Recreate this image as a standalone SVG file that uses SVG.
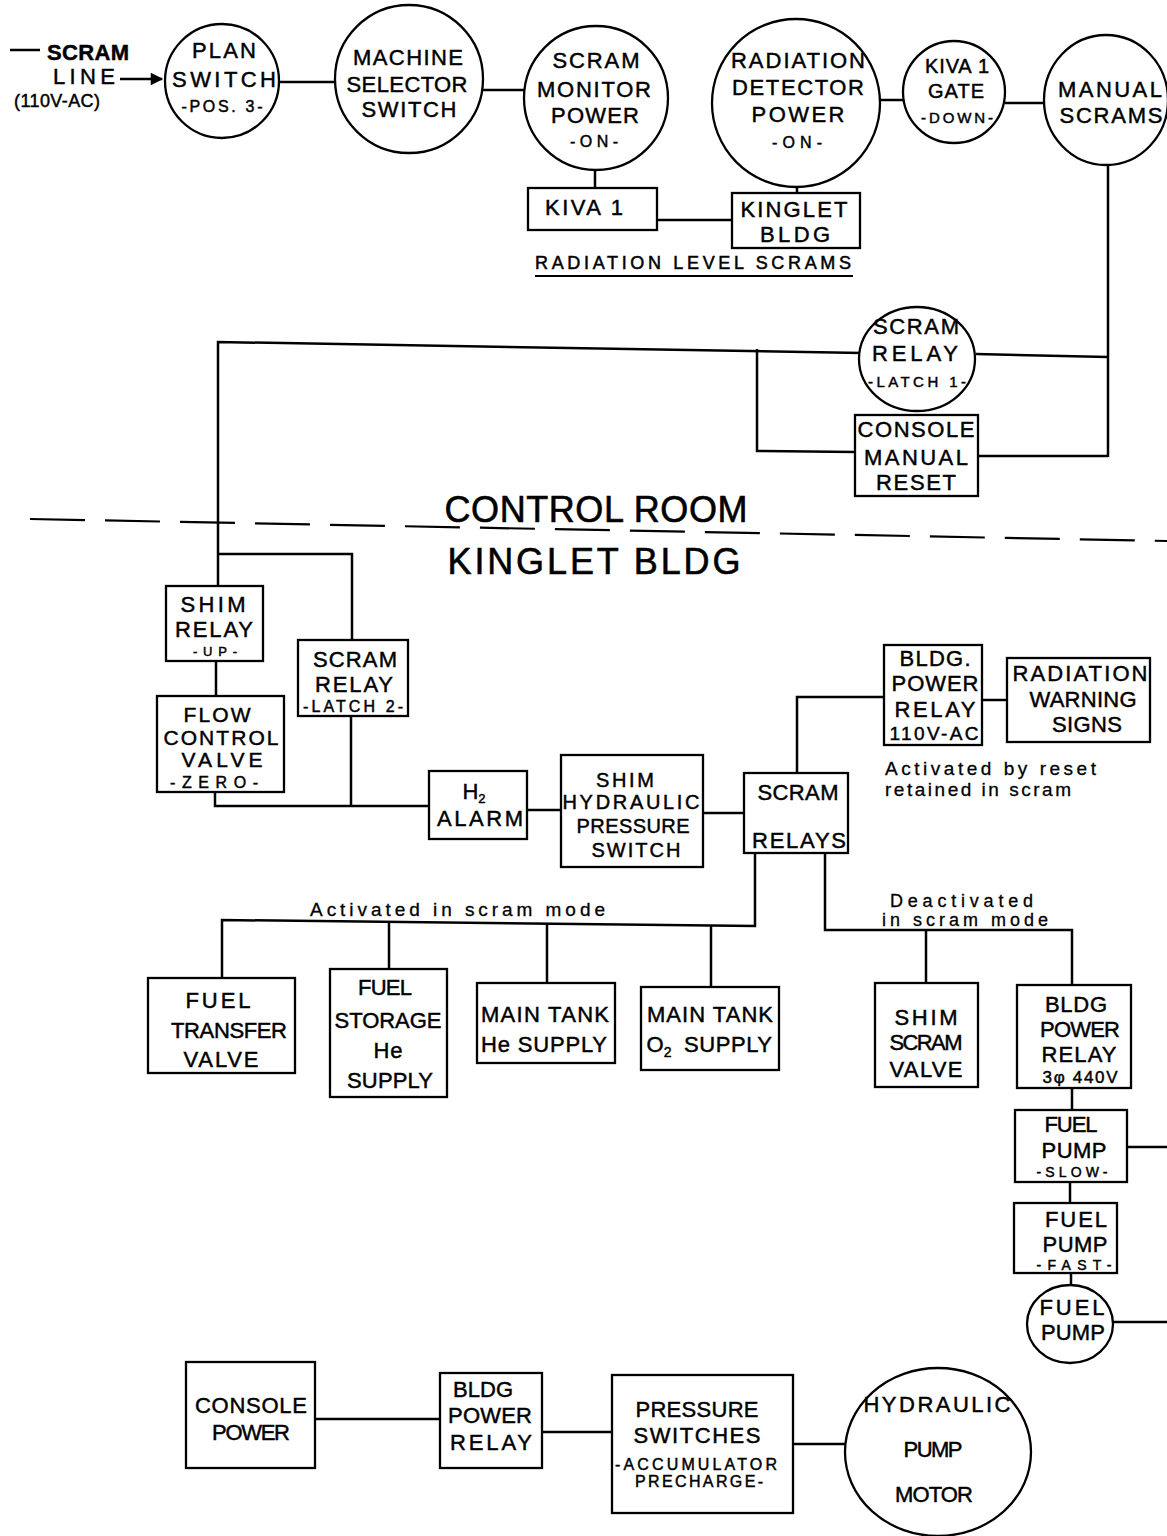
<svg xmlns="http://www.w3.org/2000/svg" width="1167" height="1536" viewBox="0 0 1167 1536">
<defs>
<style>
text{font-family:"Liberation Sans",Arial,sans-serif;fill:#000;stroke:#000;stroke-width:0.45;text-anchor:middle;font-size:22px}
.b{font-weight:bold}
.sm{font-size:16px}
.lc{text-anchor:start;font-size:19px;stroke-width:0.3}
.big{font-size:36px;stroke-width:0.6}
.n rect,.n circle,.n ellipse{fill:#fff;stroke:#000;stroke-width:2.3}
#connectors line,#connectors polyline{stroke:#000;stroke-width:2.5;fill:none}
</style>
<marker id="arr" viewBox="0 0 10 10" refX="9" refY="5" markerWidth="6" markerHeight="5" orient="auto" markerUnits="strokeWidth"><path d="M0,0 L10,5 L0,10 z" fill="#000"/></marker>
</defs>
<rect width="1167" height="1536" fill="#fff"/>

<g id="connectors">
<line x1="10" y1="50" x2="40" y2="50"/>
<line x1="120" y1="79" x2="162" y2="79" marker-end="url(#arr)"/>
<line x1="279" y1="82" x2="336" y2="82"/>
<line x1="483" y1="90" x2="525" y2="90"/>
<line x1="595" y1="170" x2="595" y2="188"/>
<line x1="657" y1="220" x2="732" y2="220"/>
<line x1="797" y1="187" x2="797" y2="193"/>
<line x1="880" y1="100" x2="904" y2="100"/>
<line x1="1005" y1="103" x2="1044" y2="103"/>
<line x1="1108" y1="165" x2="1108" y2="457"/>
<line x1="976" y1="354" x2="1108" y2="357"/>
<line x1="978" y1="456" x2="1108" y2="456"/>
<polyline points="218,586 218,342 862,353"/>
<polyline points="757,349 757,451 855,452"/>
<polyline points="218,554 352,554 352,640"/>
<line x1="216" y1="661" x2="216" y2="696"/>
<polyline points="215,792 215,806 429,806"/>
<line x1="351" y1="716" x2="351" y2="806"/>
<line x1="527" y1="810" x2="561" y2="810"/>
<line x1="703" y1="813" x2="744" y2="813"/>
<polyline points="797,773 797,697 884,697"/>
<line x1="982" y1="700" x2="1007" y2="700"/>
<polyline points="755,853 755,926 222,920 222,978"/>
<line x1="389" y1="922" x2="389" y2="969"/>
<line x1="547" y1="923" x2="547" y2="983"/>
<line x1="711" y1="925" x2="711" y2="987"/>
<polyline points="825,853 825,930 1072,930 1072,985"/>
<line x1="926" y1="930" x2="926" y2="983"/>
<line x1="1072" y1="1088" x2="1072" y2="1110"/>
<line x1="1127" y1="1147" x2="1167" y2="1147"/>
<line x1="1070" y1="1182" x2="1070" y2="1203"/>
<line x1="1071" y1="1273" x2="1071" y2="1286"/>
<line x1="1113" y1="1322" x2="1167" y2="1322"/>
<line x1="315" y1="1419" x2="440" y2="1419"/>
<line x1="542" y1="1432" x2="612" y2="1432"/>
<line x1="793" y1="1444" x2="845" y2="1444"/>
<line x1="535" y1="276" x2="853" y2="276" style="stroke-width:2"/>
<line x1="30" y1="519" x2="1167" y2="541" style="stroke-dasharray:55,20;stroke-width:2.2"/>
</g>

<g id="labels">
<text class="b" x="88" y="60" textLength="82">SCRAM</text>
<text x="84" y="84" textLength="62">LINE</text>
<text x="57" y="107" textLength="86" style="font-size:18px">(110V-AC)</text>
<text class="lc" x="535" y="269" textLength="316" style="font-size:18px;stroke-width:0.5">RADIATION  LEVEL  SCRAMS</text>
<text class="big" x="596" y="522" textLength="303">CONTROL  ROOM</text>
<text class="big" x="594" y="574" textLength="293">KINGLET  BLDG</text>
<text class="lc" x="885" y="775" textLength="211">Activated by reset</text>
<text class="lc" x="885" y="796" textLength="186">retained in scram</text>
<text class="lc" x="310" y="916" textLength="295">Activated in scram mode</text>
<text class="lc" x="890" y="907" textLength="143" style="font-size:18px">Deactivated</text>
<text class="lc" x="882" y="926" textLength="166" style="font-size:18px">in scram mode</text>
</g>

<g id="plan-switch" class="n"><circle cx="222" cy="81" r="57"/>
<text x="224" y="58" textLength="64">PLAN</text>
<text x="224" y="87" textLength="104">SWITCH</text>
<text class="sm" x="222" y="112" textLength="81">-POS. 3-</text></g>

<g id="machine-selector" class="n"><circle cx="409" cy="79" r="74"/>
<text x="408" y="65" textLength="110">MACHINE</text>
<text x="407" y="92" textLength="121">SELECTOR</text>
<text x="409" y="117" textLength="95">SWITCH</text></g>

<g id="scram-monitor" class="n"><circle cx="596" cy="98" r="72"/>
<text x="596" y="68" textLength="87">SCRAM</text>
<text x="594" y="97" textLength="114">MONITOR</text>
<text x="595" y="123" textLength="88">POWER</text>
<text class="sm" x="594" y="147" textLength="48">-ON-</text></g>

<g id="kiva1" class="n"><rect x="528" y="188" width="129" height="42"/>
<text x="584" y="215" textLength="78">KIVA 1</text></g>

<g id="kinglet-bldg" class="n"><rect x="732" y="193" width="128" height="55"/>
<text x="794" y="217" textLength="107">KINGLET</text>
<text x="795" y="242" textLength="70">BLDG</text></g>

<g id="radiation-detector" class="n"><circle cx="796" cy="103" r="84"/>
<text x="798" y="68" textLength="134">RADIATION</text>
<text x="798" y="95" textLength="132">DETECTOR</text>
<text x="798" y="122" textLength="93">POWER</text>
<text class="sm" x="797" y="148" textLength="50">-ON-</text></g>

<g id="kiva1-gate" class="n"><circle cx="954" cy="92" r="51"/>
<text x="957" y="73" textLength="64" style="font-size:20px">KIVA 1</text>
<text x="956" y="98" textLength="56" style="font-size:20px">GATE</text>
<text class="sm" x="957" y="123" textLength="72" style="font-size:15px">-DOWN-</text></g>

<g id="manual-scrams" class="n"><ellipse cx="1106" cy="100" rx="62" ry="65"/>
<text x="1110" y="97" textLength="104">MANUAL</text>
<text x="1111" y="123" textLength="103">SCRAMS</text></g>

<g id="scram-relay-latch1" class="n"><ellipse cx="917" cy="359" rx="58" ry="52"/>
<text x="916" y="334" textLength="86">SCRAM</text>
<text x="915" y="361" textLength="86">RELAY</text>
<text class="sm" x="917" y="387" textLength="98" style="font-size:15px">-LATCH 1-</text></g>

<g id="console-manual-reset" class="n"><rect x="855" y="415" width="123" height="81"/>
<text x="916" y="437" textLength="117">CONSOLE</text>
<text x="916" y="465" textLength="104">MANUAL</text>
<text x="916" y="490" textLength="80">RESET</text></g>

<g id="shim-relay" class="n"><rect x="166" y="586" width="97" height="75"/>
<text x="213" y="612" textLength="65">SHIM</text>
<text x="214" y="637" textLength="78">RELAY</text>
<text class="sm" x="215" y="656" textLength="44" style="font-size:13px">-UP-</text></g>

<g id="flow-control-valve" class="n"><rect x="157" y="696" width="127" height="96"/>
<text x="217" y="722" textLength="67" style="font-size:21px">FLOW</text>
<text x="221" y="745" textLength="115" style="font-size:21px">CONTROL</text>
<text x="222" y="767" textLength="81" style="font-size:21px">VALVE</text>
<text class="sm" x="214" y="788" textLength="88">-ZERO-</text></g>

<g id="scram-relay-latch2" class="n"><rect x="298" y="640" width="110" height="76"/>
<text x="355" y="667" textLength="84">SCRAM</text>
<text x="354" y="692" textLength="78">RELAY</text>
<text class="sm" x="353" y="712" textLength="100">-LATCH 2-</text></g>

<g id="h2-alarm" class="n"><rect x="429" y="771" width="98" height="68"/>
<text x="474" y="799">H<tspan dy="4" style="font-size:13px">2</tspan></text>
<text x="480" y="826" textLength="86">ALARM</text></g>

<g id="shim-hydraulic" class="n"><rect x="561" y="755" width="142" height="112"/>
<text x="625" y="787" textLength="58" style="font-size:20px">SHIM</text>
<text x="631" y="809" textLength="137" style="font-size:20px">HYDRAULIC</text>
<text x="633" y="833" textLength="113" style="font-size:20px">PRESSURE</text>
<text x="636" y="857" textLength="89" style="font-size:20px">SWITCH</text></g>

<g id="scram-relays" class="n"><rect x="744" y="773" width="104" height="80"/>
<text x="798" y="800" textLength="81">SCRAM</text>
<text x="799" y="848" textLength="94">RELAYS</text></g>

<g id="bldg-power-relay-110" class="n"><rect x="884" y="645" width="98" height="100"/>
<text x="935" y="666" textLength="71">BLDG.</text>
<text x="935" y="691" textLength="87">POWER</text>
<text x="935" y="717" textLength="81">RELAY</text>
<text x="934" y="740" textLength="89" style="font-size:19px">110V-AC</text></g>

<g id="radiation-warning" class="n"><rect x="1007" y="658" width="143" height="84"/>
<text x="1080" y="681" textLength="135">RADIATION</text>
<text x="1083" y="707" textLength="107">WARNING</text>
<text x="1087" y="732" textLength="70">SIGNS</text></g>

<g id="fuel-transfer-valve" class="n"><rect x="148" y="978" width="147" height="95"/>
<text x="218" y="1008" textLength="65">FUEL</text>
<text x="229" y="1038" textLength="116">TRANSFER</text>
<text x="221" y="1067" textLength="75">VALVE</text></g>

<g id="fuel-storage" class="n"><rect x="330" y="969" width="117" height="128"/>
<text x="385" y="995" textLength="54">FUEL</text>
<text x="388" y="1028" textLength="107">STORAGE</text>
<text x="388" y="1058" textLength="29">He</text>
<text x="390" y="1088" textLength="86">SUPPLY</text></g>

<g id="main-tank-he" class="n"><rect x="477" y="983" width="138" height="80"/>
<text x="545" y="1022" textLength="128">MAIN TANK</text>
<text x="544" y="1052" textLength="126">He SUPPLY</text></g>

<g id="main-tank-o2" class="n"><rect x="641" y="987" width="138" height="83"/>
<text x="710" y="1022" textLength="126">MAIN TANK</text>
<text x="659" y="1052">O<tspan dy="5" style="font-size:14px">2</tspan></text>
<text x="728" y="1052" textLength="88">SUPPLY</text></g>

<g id="shim-scram-valve" class="n"><rect x="875" y="983" width="103" height="104"/>
<text x="926" y="1025" textLength="63">SHIM</text>
<text x="926" y="1050" textLength="73">SCRAM</text>
<text x="926" y="1077" textLength="73">VALVE</text></g>

<g id="bldg-power-relay-440" class="n"><rect x="1017" y="985" width="114" height="103"/>
<text x="1076" y="1012" textLength="62">BLDG</text>
<text x="1080" y="1037" textLength="80">POWER</text>
<text x="1079" y="1062" textLength="75">RELAY</text>
<text class="sm" x="1080" y="1083" textLength="75" style="font-size:17px">3φ 440V</text></g>

<g id="fuel-pump-slow" class="n"><rect x="1015" y="1110" width="112" height="72"/>
<text x="1071" y="1132" textLength="53">FUEL</text>
<text x="1074" y="1158" textLength="65">PUMP</text>
<text class="sm" x="1072" y="1177" textLength="71" style="font-size:14px">-SLOW-</text></g>

<g id="fuel-pump-fast" class="n"><rect x="1014" y="1203" width="103" height="70"/>
<text x="1076" y="1227" textLength="62">FUEL</text>
<text x="1075" y="1252" textLength="65">PUMP</text>
<text class="sm" x="1074" y="1270" textLength="75" style="font-size:14px">-FAST-</text></g>

<g id="fuel-pump" class="n"><ellipse cx="1070" cy="1324" rx="43" ry="39"/>
<text x="1072" y="1315" textLength="65">FUEL</text>
<text x="1073" y="1340" textLength="64">PUMP</text></g>

<g id="console-power" class="n"><rect x="186" y="1362" width="129" height="106"/>
<text x="251" y="1413" textLength="112">CONSOLE</text>
<text x="251" y="1440" textLength="78">POWER</text></g>

<g id="bldg-power-relay" class="n"><rect x="440" y="1373" width="102" height="95"/>
<text x="483" y="1397" textLength="60">BLDG</text>
<text x="490" y="1423" textLength="84">POWER</text>
<text x="491" y="1450" textLength="82">RELAY</text></g>

<g id="pressure-switches" class="n"><rect x="612" y="1375" width="181" height="138"/>
<text x="697" y="1417" textLength="123">PRESSURE</text>
<text x="697" y="1443" textLength="127">SWITCHES</text>
<text class="sm" x="696" y="1470" textLength="162">-ACCUMULATOR</text>
<text class="sm" x="699" y="1487" textLength="128">PRECHARGE-</text></g>

<g id="hydraulic-pump-motor" class="n"><ellipse cx="938" cy="1452" rx="93" ry="84"/>
<text x="937" y="1412" textLength="147">HYDRAULIC</text>
<text x="933" y="1457" textLength="59">PUMP</text>
<text x="934" y="1502" textLength="78">MOTOR</text></g>
</svg>
